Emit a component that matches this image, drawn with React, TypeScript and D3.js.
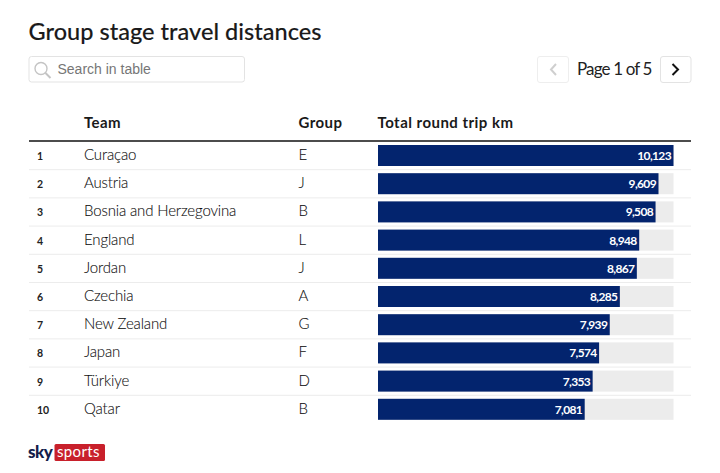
import React from "react";
import * as d3 from "d3";

const ranks = [1, 2, 3, 4, 5, 6, 7, 8, 9, 10];
const teams = ["Curaçao", "Austria", "Bosnia and Herzegovina", "England", "Jordan", "Czechia", "New Zealand", "Japan", "Türkiye", "Qatar"];
const groups = ["E", "J", "B", "L", "J", "A", "G", "F", "D", "B"];
const distances = [10123, 9609, 9508, 8948, 8867, 8285, 7939, 7574, 7353, 7081];
const headers = ["Team", "Group", "Total round trip km"];

const font = "Lato, 'Noto Sans', sans-serif";
const navy = "#03246e";

export default function App() {
  const x = d3.scaleLinear().domain([0, 10123]).range([378, 673.5]);
  const y = d3.scaleBand<number>().domain(ranks).range([141.5, 423.5]).paddingInner(0).paddingOuter(0);
  const fmt = d3.format(",");
  const bh = 21;
  return (
    <svg width={720} height={473} style={{ position: "absolute", left: 0, top: 0, background: "#fff" }} fontFamily={font}>
      <text x={28.5} y={40} fontSize={23.5} fontWeight={500} fill="#1a1a1a" stroke="#1a1a1a" strokeWidth={0.12} letterSpacing={0.03}>Group stage travel distances</text>

      <rect x={29} y={56.5} width={215.5} height={25.5} rx={2.5} fill="#fff" stroke="#e3e3e3" />
      <circle cx={41} cy={68.5} r={6} fill="none" stroke="#c4c4c4" strokeWidth={1.4} />
      <line x1={45.5} y1={73} x2={50.5} y2={78} stroke="#c4c4c4" strokeWidth={2} />
      <text x={57.5} y={74} fontSize={14} fontFamily="'Liberation Sans', Arial, sans-serif" fill="#767676">Search in table</text>

      <rect x={537.5} y={56.5} width={31} height={26} rx={2.5} fill="#fff" stroke="#eeeeee" />
      <path d="M556 64 L551 69.5 L556 75" fill="none" stroke="#cfcfcf" strokeWidth={2} />
      <text x={577} y={75} fontSize={17} fontWeight={400} fill="#222" letterSpacing={-0.85}>Page 1 of 5</text>
      <rect x={660.5} y={56.5} width={30.5} height={26} rx={2.5} fill="#fff" stroke="#e3e3e3" />
      <path d="M672.5 64 L678 69.5 L672.5 75" fill="none" stroke="#111" strokeWidth={2} />

      <text x={84} y={128} fontSize={15} fontWeight={700} fill="#1a1a1a" letterSpacing={0.4}>{headers[0]}</text>
      <text x={298.5} y={128} fontSize={15} fontWeight={700} fill="#1a1a1a" letterSpacing={0.45}>{headers[1]}</text>
      <text x={377.5} y={128} fontSize={15} fontWeight={700} fill="#1a1a1a" letterSpacing={0.47}>{headers[2]}</text>
      <line x1={29} x2={691} y1={141} y2={141} stroke="#111" strokeWidth={1.6} />

      {ranks.map((r, i) => {
        const top = y(r)!;
        const by = top + 3.5;
        return (
          <g key={r}>
            {i < ranks.length - 1 && (
              <line x1={29} x2={691} y1={top + y.bandwidth()} y2={top + y.bandwidth()} stroke="#ececec" strokeWidth={1} />
            )}
            <text x={37} y={by + 15} fontSize={10.5} fontWeight={700} fill="#222">{r}</text>
            <text x={84} y={by + 15} fontSize={15} fontWeight={300} fill="#111" stroke="#111" strokeWidth={0.1} letterSpacing={-0.15}>{teams[i]}</text>
            <text x={298.5} y={by + 15} fontSize={15} fontWeight={300} fill="#111" stroke="#111" strokeWidth={0.1}>{groups[i]}</text>
            <rect x={x(0)} y={by} width={x(10123) - x(0)} height={bh} fill="#ececec" />
            <rect x={x(0)} y={by} width={x(distances[i]) - x(0)} height={bh} fill={navy} />
            <text x={x(distances[i]) - 2.5} y={by + 15} fontSize={12} fontWeight={700} fill="#fff" textAnchor="end" letterSpacing={-0.65}>{fmt(distances[i])}</text>
          </g>
        );
      })}

      <text x={28} y={458} fontSize={17} fontWeight={900} fill="#13204a" letterSpacing={-0.5}>sky</text>
      <rect x={54.5} y={444} width={50.5} height={17} rx={1.5} fill="#c8202b" />
      <text x={57} y={457} fontSize={15} fontWeight={400} fill="#fff" letterSpacing={0.35}>sports</text>
    </svg>
  );
}
